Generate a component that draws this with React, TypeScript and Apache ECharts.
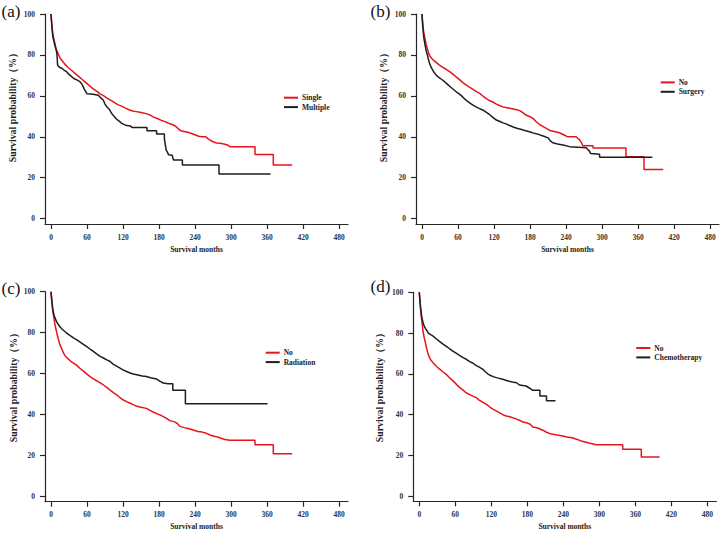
import React, { useEffect, useRef } from "react";
import * as echarts from "echarts";

// ---- tick labels ----
const xTicks = [0, 60, 120, 180, 240, 300, 360, 420, 480];
const yTicks = [0, 20, 40, 60, 80, 100];

// ---- panel (a): Single vs Multiple  [months, survival %] ----
const aSingle = [[0,100],[1,96],[2,93],[3,90.5],[5,87.5],[7,85],[9,82.5],[12,80.5],[15,78.5],[19,77],[23,75.5],[28,74],[34,72.5],[40,71],[46,69.5],[52,68],[58,66.5],[64,65],[70,63.5],[76,62.3],[82,61],[88,60],[94,58.8],[100,57.8],[106,56.7],[112,55.6],[118,55],[124,54],[130,53.2],[136,52.6],[142,52.3],[148,52],[154,51.6],[160,51.2],[166,50.5],[172,49.5],[178,48.8],[184,48],[190,47.4],[196,46.6],[202,46],[207,45.3],[212,44],[216,43],[222,42.6],[228,42.2],[234,41.6],[240,41],[246,40.3],[252,40],[258,40],[262,39],[266,38.2],[270,37.6],[276,37],[282,36.8],[288,36.5],[294,36],[298,35.2],[340,35.2],[340,31.4],[370.5,31.4],[370.5,26.2],[402,26.2]];
const aMultiple = [[0,100],[1,96],[2,92],[3,89],[5,86.5],[7,84],[9,82],[10,80],[11,75],[14,74],[18,73.5],[22,72.5],[26,71.8],[30,70.5],[34,69.5],[38,68.5],[43,67.8],[48,67],[52,65.5],[56,63],[60,61],[70,60.8],[79,60.3],[83,59],[87,58],[90,56],[93,54.7],[97,53.5],[101,51.5],[105,50],[109,48.7],[113,47.8],[118,46.6],[124,45.7],[132,45.3],[135,44.6],[160,44.6],[160,43],[176,43],[176,41.4],[189,41.4],[189,39],[190,37],[192,33.5],[194,32.5],[196,31.2],[202,31],[204,28.7],[219,28.7],[219,26.2],[280,26.2],[280,21.8],[366,21.8]];

// ---- panel (b): No vs Surgery ----
const bNo = [[0,100],[1,96],[2,93],[3,91],[5,88],[7,85],[9,83],[11,81],[13,79.5],[17,78],[21,77],[25,76],[29,75],[34,74],[40,73],[46,71.8],[52,70.5],[58,69],[63,67.8],[68,66.5],[74,65.3],[79,64.3],[85,63.2],[90,62.2],[96,61.2],[102,59.8],[108,58.5],[113,57.6],[118,57],[124,56],[130,55.2],[135,54.6],[140,54.3],[146,54],[152,53.6],[158,53.2],[163,52.8],[168,51.8],[174,50.5],[180,49.8],[185,49],[190,47.5],[196,46],[202,45],[208,44],[213,43.1],[222,42.5],[229,42],[236,41],[243,40],[257,40],[260,39.2],[263,38.4],[266,37],[268,35.6],[285,35.6],[285,34.5],[340,34.5],[340,30.3],[370,30.3],[370,24],[402,24]];
const bSurgery = [[0,100],[1,95],[2,91.5],[3,88.5],[5,85],[7,82],[9,80],[11,77.5],[13,75.5],[16,73.5],[20,71.5],[24,70],[28,69],[33,68],[38,66.8],[43,65.5],[48,64.2],[53,63],[57,62],[62,61],[66,60],[70,58.8],[75,57.5],[80,56.5],[85,55.5],[90,54.6],[96,53.8],[102,53],[108,51.8],[113,50.8],[118,49.5],[124,48.2],[130,47.5],[135,46.8],[140,46.3],[146,45.5],[152,44.8],[158,44.2],[163,43.8],[170,43.2],[179,42.5],[186,41.8],[194,41.2],[202,40.4],[210,39.5],[214,38],[218,37.1],[226,36.5],[235,36],[246,35.2],[274,34.6],[276,33.9],[279,33],[281,31.9],[296,31.5],[296,30],[384,30]];

// ---- panel (c): No vs Radiation ----
const cNo = [[0,100],[1,96],[2,93],[3,90.5],[4,88.8],[6,85],[8,82],[10,79.5],[12,77],[15,74],[18,72],[21,70],[24,68.5],[28,67.3],[33,66],[38,65],[43,64],[48,62.6],[54,61.2],[59,60],[65,58.5],[70,57.5],[76,56.5],[82,55.4],[88,54.3],[94,53],[99,51.8],[104,50.7],[110,49.5],[115,48.2],[120,47.2],[126,46.3],[132,45.5],[137,44.8],[143,44],[150,43.5],[159,43],[165,42],[172,41],[178,40.2],[182,39.8],[188,38.8],[193,38],[198,37],[206,36.4],[211,35.5],[215,34.2],[222,33.6],[230,33],[237,32.4],[245,31.7],[252,31.4],[259,30.8],[265,30],[272,29.4],[278,29],[282,28.5],[290,27.8],[298,27.4],[340,27.4],[340,25.2],[370.5,25.2],[370.5,20.8],[402,20.8]];
const cRadiation = [[0,100],[1,97],[2,94],[3,91.5],[5,88.5],[7,87],[9,85.5],[12,84],[16,82.5],[20,81.3],[26,79.8],[32,78.5],[38,77.3],[43,76.5],[48,75.5],[54,74.3],[59,73.3],[65,72],[70,71],[76,69.6],[82,68.4],[88,67.5],[93,66.7],[98,66],[104,64.5],[110,63.5],[115,62.7],[120,61.8],[126,61],[132,60.3],[137,59.8],[145,59.3],[152,58.8],[159,58.6],[166,58],[172,57.6],[176,57.3],[182,56.2],[187,55.4],[195,55],[203,55],[203,51.8],[224,51.8],[224,45.3],[361,45.3]];

// ---- panel (d): No vs Chemotherapy ----
const dNo = [[0,100],[1,96],[2,92],[3,89],[4,86.5],[5,84],[6,81],[8,78],[10,75.5],[12,72.8],[14,70.5],[17,67.9],[20,66.5],[24,65],[28,63.8],[33,62.5],[39,61],[45,59.7],[50,58.2],[56,56.5],[62,54.8],[67,53.3],[72,52.2],[78,50.7],[84,49.8],[90,48.9],[95,48.3],[100,47],[106,46],[112,45],[117,43.8],[122,42.8],[128,41.8],[134,40.8],[140,39.8],[145,39.3],[152,38.8],[160,38],[167,37.2],[173,36.3],[180,35.8],[185,35.2],[189,33.9],[196,33.5],[206,32.3],[212,31.3],[218,30.6],[223,30.3],[230,29.9],[239,29.5],[246,29],[255,28.6],[262,27.9],[270,27],[278,26.4],[284,25.9],[295,25.2],[339,25.2],[339,23],[370,23],[370,19.2],[400.5,19.2]];
const dChemo = [[0,100],[1,96],[2,93],[3,90.5],[4,88],[6,85.5],[8,83.5],[10,82.3],[12,81.5],[15,80],[19,79.2],[23,78.5],[28,77.2],[33,76],[39,74.7],[45,73.5],[50,72.4],[56,71.1],[62,70],[67,69],[73,67.9],[79,67],[84,66],[89,65.3],[95,64],[100,63.3],[106,62.2],[110,61],[114,60],[117,59.4],[123,58.6],[130,58],[139,57.3],[148,56.5],[155,56],[162,55.6],[167,54.5],[178,54],[184,52.9],[189,51.9],[201,51.9],[201,49.1],[212,49.1],[212,46.7],[227,46.7]];

const RED = "#e8131b";
const BLACK = "#1e1e1e";
const AXIS = "#262626";
const FONT = "'Liberation Serif', 'Times New Roman', serif";

const panels = [
  { grid: { left: 45, top: 14, width: 303, height: 210 }, series: [["Single", aSingle, RED], ["Multiple", aMultiple, BLACK]], legend: { left: 284, top: 93 }, tag: "(a)", tagPos: [1.5, 11], yTitle: [12, 105] },
  { grid: { left: 416, top: 14, width: 303, height: 210 }, series: [["No", bNo, RED], ["Surgery", bSurgery, BLACK]], legend: { left: 660.7, top: 77.7 }, tag: "(b)", tagPos: [370.5, 11], yTitle: [383, 105] },
  { grid: { left: 45, top: 291.7, width: 303, height: 210 }, series: [["No", cNo, RED], ["Radiation", cRadiation, BLACK]], legend: { left: 265.7, top: 348 }, tag: "(c)", tagPos: [1.5, 288], yTitle: [13.3, 385] },
  { grid: { left: 413.3, top: 292.3, width: 303, height: 209 }, series: [["No", dNo, RED], ["Chemotherapy", dChemo, BLACK]], legend: { left: 636.3, top: 343.3 }, tag: "(d)", tagPos: [370.5, 286.5], yTitle: [379.7, 385] },
];

function buildOption() {
  const grid: any[] = [];
  const xAxis: any[] = [];
  const yAxis: any[] = [];
  const series: any[] = [];
  const legend: any[] = [];
  const graphic: any[] = [];
  const labelStyle = { fontFamily: FONT, fontWeight: "bold", fontSize: 7.5, color: "#333" };
  panels.forEach((p, i) => {
    grid.push({ ...p.grid, containLabel: false });
    xAxis.push({
      type: "value", gridIndex: i, min: -10, max: 495,
      name: "Survival months", nameLocation: "middle", nameGap: 21,
      nameTextStyle: { fontFamily: FONT, fontWeight: "bold", fontSize: 7.5, color: "#222" },
      axisLine: { show: true, onZero: false, lineStyle: { color: AXIS, width: 1.2 } },
      axisTick: { show: true, length: 5, customValues: xTicks, lineStyle: { color: AXIS, width: 1.2 } },
      axisLabel: { ...labelStyle, margin: 9, customValues: xTicks },
      splitLine: { show: false },
    });
    yAxis.push({
      type: "value", gridIndex: i, min: -2.6, max: 100,
      axisLine: { show: true, onZero: false, lineStyle: { color: AXIS, width: 1.2 } },
      axisTick: { show: true, length: 5, customValues: yTicks, lineStyle: { color: AXIS, width: 1.2 } },
      axisLabel: { ...labelStyle, margin: 10, customValues: yTicks },
      splitLine: { show: false },
    });
    p.series.forEach(([name, data, color]: any) => {
      series.push({
        type: "line", name, data, xAxisIndex: i, yAxisIndex: i,
        showSymbol: false, symbol: "none",
        lineStyle: { color, width: 1.5 }, itemStyle: { color },
      });
    });
    legend.push({
      orient: "vertical", left: p.legend.left, top: p.legend.top, padding: 0, itemGap: 0,
      itemWidth: 14, itemHeight: 2, icon: "rect", selectedMode: false,
      data: p.series.map((s: any) => s[0]),
      textStyle: { fontFamily: FONT, fontWeight: "bold", fontSize: 7.5, color: "#222", lineHeight: 9.4, padding: [0, 0, 0, -1] },
    });
    graphic.push({
      type: "text", x: p.tagPos[0], y: p.tagPos[1],
      style: { text: p.tag, fontFamily: FONT, fontSize: 17, fill: "#111", verticalAlign: "middle", align: "left" },
    });
    graphic.push({
      type: "text", x: p.yTitle[0], y: p.yTitle[1], rotation: Math.PI / 2,
      style: { text: "Survival probability（%）", fontFamily: FONT, fontWeight: "bold", fontSize: 9.8, fill: "#222", verticalAlign: "middle", align: "center" },
    });
  });
  return { animation: false, backgroundColor: "#ffffff", grid, xAxis, yAxis, series, legend, graphic };
}

export default function App() {
  const ref = useRef<HTMLDivElement>(null);
  useEffect(() => {
    if (!ref.current) return;
    const chart = echarts.init(ref.current, null, { renderer: "svg" });
    chart.setOption(buildOption() as any);
    return () => chart.dispose();
  }, []);
  return <div ref={ref} style={{ position: "absolute", left: 0, top: 0, width: 723, height: 537 }} />;
}
